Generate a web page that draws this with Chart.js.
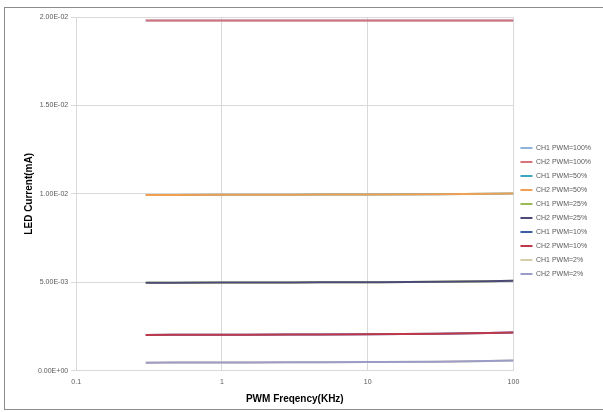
<!DOCTYPE html>
<html>
<head>
<meta charset="utf-8">
<script src="https://cdn.jsdelivr.net/npm/chart.js@4"></script>
<style>
    body { margin: 0; background: #ffffff; }
    #wrap { width: 603px; height: 412px; position: relative; }
</style>
</head>
<body>
<div id="wrap"><canvas id="graph_led" width="603" height="412"></canvas></div>
<script>
// PWM frequency (KHz)
var FREQ              = [0.3, 1, 3, 10, 30, 100];
var X_TICKS           = [0.1, 1, 10, 100];

// LED current (mA) per channel / duty cycle
var CH1_PWM100        = [0.0198, 0.0198, 0.0198, 0.0198, 0.0198, 0.0198];
var CH2_PWM100        = [0.0198, 0.0198, 0.0198, 0.0198, 0.0198, 0.0198];
var CH1_PWM50         = [0.00993, 0.00994, 0.00995, 0.00996, 0.00998, 0.01002];
var CH2_PWM50         = [0.00993, 0.00994, 0.00995, 0.00996, 0.00998, 0.01002];
var CH1_PWM25         = [0.00497, 0.00498, 0.00499, 0.00500, 0.00502, 0.00508];
var CH2_PWM25         = [0.00497, 0.00498, 0.00499, 0.00500, 0.00502, 0.00508];
var CH1_PWM10         = [0.00202, 0.00203, 0.00204, 0.00205, 0.00208, 0.00215];
var CH2_PWM10         = [0.00202, 0.00203, 0.00204, 0.00205, 0.00208, 0.00215];
var CH1_PWM2          = [0.00045, 0.00046, 0.00047, 0.00048, 0.00050, 0.00057];
var CH2_PWM2          = [0.00045, 0.00046, 0.00047, 0.00048, 0.00050, 0.00057];

var SERIES = [
    ['CH1 PWM=100%', CH1_PWM100, '#8db3d8', 1],
    ['CH2 PWM=100%', CH2_PWM100, '#d8737a', 0],
    ['CH1 PWM=50%',  CH1_PWM50,  '#3fa4c4', 1],
    ['CH2 PWM=50%',  CH2_PWM50,  '#f0a050', 0],
    ['CH1 PWM=25%',  CH1_PWM25,  '#9bbb59', 1],
    ['CH2 PWM=25%',  CH2_PWM25,  '#4e4a78', 0],
    ['CH1 PWM=10%',  CH1_PWM10,  '#3c5ca8', 1],
    ['CH2 PWM=10%',  CH2_PWM10,  '#c0394a', 0],
    ['CH1 PWM=2%',   CH1_PWM2,   '#d8cca8', 1],
    ['CH2 PWM=2%',   CH2_PWM2,   '#9c9cc8', 0],
];


function format_sci(value) {

    if (value === 0) return '0.00E+00';

    var exp  = Math.floor(Math.log10(Math.abs(value)) + 1e-9);
    var mant = value / Math.pow(10, exp);
    var sign = exp < 0 ? '-' : '+';
    var e    = Math.abs(exp);

    return mant.toFixed(2) + 'E' + sign + (e < 10 ? '0' + e : e);
}


var frame_plugin = {
    id: 'frame',
    beforeDraw: function(chart) {
        var ctx = chart.ctx;
        ctx.save();
        ctx.fillStyle = '#ffffff';
        ctx.fillRect(0, 0, chart.width, chart.height);
        ctx.strokeStyle = '#8c8c8c';
        ctx.lineWidth = 1;
        ctx.strokeRect(4.5, 7.5, 620, 402);
        ctx.restore();
    }
};


function graph_datasets() {

    return SERIES.map(function(s) {
        return {
            label: s[0],
            data: FREQ.map(function(f, i) { return { x: f, y: s[1][i] }; }),
            borderColor: s[2],
            backgroundColor: s[2],
            borderWidth: 2,
            pointRadius: 0,
            cubicInterpolationMode: 'monotone',
            order: s[3],
        };
    });
}


new Chart(document.getElementById('graph_led'), {
    type: 'line',
    data: { datasets: graph_datasets() },
    plugins: [frame_plugin],
    options: {
        responsive: false,
        animation: false,
        layout: {
            padding: { top: 17, left: 23, right: 2, bottom: 7 }
        },
        scales: {
            x: {
                type: 'logarithmic',
                min: 0.1,
                max: 100,
                afterBuildTicks: function(axis) {
                    axis.ticks = X_TICKS.map(function(v) { return { value: v }; });
                },
                ticks: {
                    color: '#595959',
                    font: { family: 'Liberation Sans', size: 7 },
                    padding: 7,
                    maxRotation: 0,
                    callback: function(value) { return String(value); }
                },
                grid: { color: '#d9d9d9', tickLength: 0 },
                border: { color: '#d9d9d9' },
                title: {
                    display: true,
                    text: 'PWM Freqency(KHz)',
                    color: '#000000',
                    font: { family: 'Liberation Sans', size: 10, weight: 'bold' },
                    padding: { top: 0, bottom: 0 }
                }
            },
            y: {
                min: 0,
                max: 0.02,
                ticks: {
                    stepSize: 0.005,
                    color: '#595959',
                    font: { family: 'Liberation Sans', size: 7 },
                    padding: 3,
                    callback: function(value) { return format_sci(value); }
                },
                grid: { color: '#d9d9d9', tickLength: 5 },
                border: { color: '#d9d9d9' },
                title: {
                    display: true,
                    text: 'LED Current(mA)',
                    color: '#000000',
                    font: { family: 'Liberation Sans', size: 10, weight: 'bold' },
                    padding: { top: 0, bottom: 0 }
                }
            }
        },
        plugins: {
            legend: {
                position: 'right',
                align: 'center',
                labels: {
                    usePointStyle: true,
                    pointStyle: 'line',
                    pointStyleWidth: 12,
                    boxHeight: 6,
                    padding: 7,
                    color: '#595959',
                    font: { family: 'Liberation Sans', size: 7 },
                    sort: function(a, b) { return a.datasetIndex - b.datasetIndex; }
                }
            },
            tooltip: { enabled: false }
        }
    }
});
</script>
</body>
</html>
